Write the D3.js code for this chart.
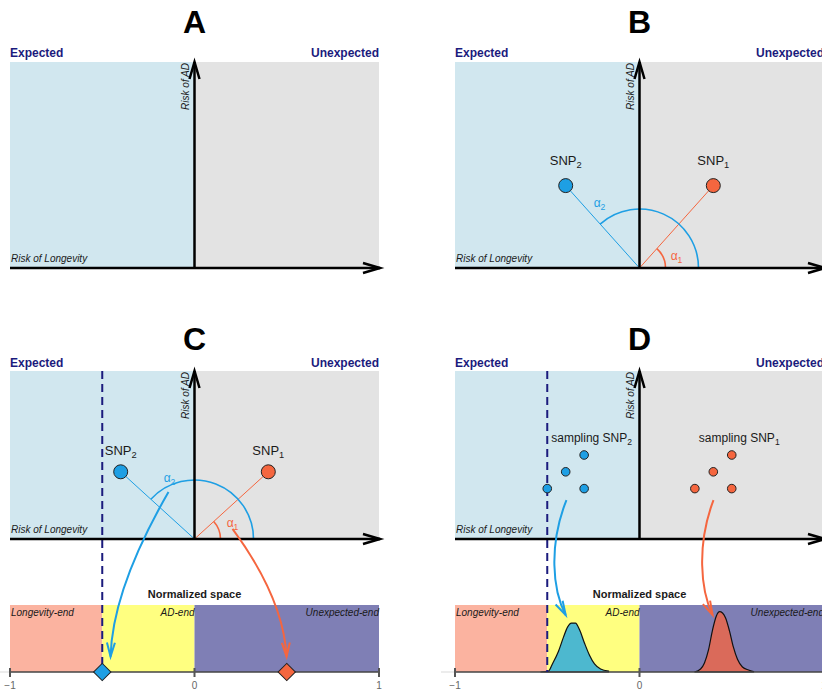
<!DOCTYPE html>
<html><head><meta charset="utf-8">
<script src="https://cdn.jsdelivr.net/npm/d3@7"></script>
<style>
  body { margin: 0; background: #fff; }
  svg { display: block; font-family: "Liberation Sans", Arial, Helvetica, sans-serif; }
</style>
</head><body>
<svg id="fig" width="822" height="691"></svg>
<script>
// ---- content ----------------------------------------------------------
const panelLetters = ["A", "B", "C", "D"];
const regionLabels = ["Expected", "Unexpected"];
const axisTitles   = ["Risk of Longevity", "Risk of AD"];
const bandNames    = ["Longevity-end", "AD-end", "Unexpected-end"];
const bandEdges    = [-1, -0.5, 0, 1];
const normTicks    = [-1, 0, 1];
const cutoff       = -0.5;

// SNP effects: (risk of longevity, risk of AD)
const snpIds  = ["1", "2"];
const snpLong = [0.4, -0.4];
const snpAD   = [0.4, 0.4];
// projection of each SNP onto the normalized space
const snpNorm = [0.5, -0.5];

// sampled effects (panel D)
const samp1Long = [0.5, 0.4, 0.3, 0.5];
const samp1AD   = [0.5, 0.4, 0.3, 0.3];
const samp2Long = [-0.3, -0.4, -0.5, -0.3];
const samp2AD   = [0.5, 0.4, 0.3, 0.3];

// densities of the sampled projections in normalized space
const dens2X = [-0.537, -0.493, -0.472, -0.439, -0.412, -0.390, -0.369, -0.347, -0.325, -0.298, -0.271, -0.244, -0.211, -0.168];
const dens2Y = [0, 0.15, 1.2, 3.1, 5.2, 6.7, 7.3, 7.3, 6.3, 4.3, 2.5, 1.2, 0.45, 0.15];
const dens1X = [0.298, 0.331, 0.352, 0.374, 0.396, 0.417, 0.434, 0.450, 0.466, 0.488, 0.509, 0.531, 0.558, 0.591, 0.618];
const dens1Y = [0, 0.45, 1.35, 3.3, 6.3, 8.4, 9.0, 8.8, 8.1, 6.1, 3.7, 1.9, 0.75, 0.3, 0.07];

// curved mapping arrows: [start, control(s)..., end] in (longevity, AD) units
const arrowC2 = [[-0.141, 0.28], [-0.445, -0.30], [-0.455, -0.70]];
const arrowC1 = [[0.206, 0.06], [0.482, -0.351], [0.499, -0.70]];
const arrowD2 = [[-0.396, 0.232], [-0.493, -0.036], [-0.472, -0.304], [-0.40, -0.452]];
const arrowD1 = [[0.401, 0.232], [0.309, -0.036], [0.331, -0.304], [0.396, -0.452]];

// ---- style ------------------------------------------------------------
const C = {
  expected: "#d1e7ef", unexpected: "#e3e3e3", navy: "#1b1b7d",
  blue: "#1e9fe4", orange: "#f5663f",
  pink: "#fbb3a0", yellow: "#ffff80", purple: "#7f7fb5",
  densBlue: "#4db8cf", densOrange: "#da6a5a", ink: "#1a1a1a"
};
const bandFills = [C.pink, C.yellow, C.purple];

const panels = [
  { key: "A", x0: 10,  top: 62,  axisY: 268, titleY: 33,  labelY: 57 },
  { key: "B", x0: 455, top: 62,  axisY: 268, titleY: 33,  labelY: 57,
    snp: true, snpLabelDy: -21, alpha2: [-40, -61], alpha1: [37, -8] },
  { key: "C", x0: 10,  top: 371, axisY: 539, titleY: 350, labelY: 367,
    snp: true, snpLabelDy: -17, alpha2: [-25, -57], alpha1: [38, -12],
    band: true, bandTop: 605, bandBottom: 672, arrows: [arrowC2, arrowC1], diamonds: true },
  { key: "D", x0: 455, top: 371, axisY: 539, titleY: 350, labelY: 367,
    samples: true, band: true, bandTop: 605, bandBottom: 672, arrows: [arrowD2, arrowD1], dens: true }
];
const W = 369;

const svg = d3.select("#fig");

function chevron(g, tip, dir, len, half, color, width) {
  // open arrowhead pointing along dir (unit vector)
  const [dx, dy] = dir, nx = -dy, ny = dx;
  const bx = tip[0] - dx * len, by = tip[1] - dy * len;
  g.append("path")
    .attr("d", `M${bx + nx * half},${by + ny * half}L${tip[0]},${tip[1]}L${bx - nx * half},${by - ny * half}`)
    .attr("fill", "none").attr("stroke", color).attr("stroke-width", width)
    .attr("stroke-linejoin", "miter").attr("stroke-linecap", "butt");
}

function subText(g, x, y, base, sub, size, color, anchor, style) {
  const t = g.append("text").attr("x", x).attr("y", y)
    .attr("font-size", size).attr("fill", color).attr("text-anchor", anchor || "middle");
  if (style) t.attr("font-style", style);
  t.append("tspan").text(base);
  t.append("tspan").attr("dy", size * 0.28).attr("font-size", size * 0.72).text(sub);
  return t;
}

panels.forEach((p, pi) => {
  const g = svg.append("g");
  const x = d3.scaleLinear([-1, 1], [p.x0, p.x0 + W]);
  const y = d3.scaleLinear([0, 1], [p.axisY, p.top]);
  const ox = x(0), oy = y(0);

  // panel letter
  g.append("text").attr("x", ox).attr("y", p.titleY).attr("text-anchor", "middle")
    .attr("font-size", 32).attr("font-weight", "bold").attr("fill", "#000").text(panelLetters[pi]);

  // quadrant backgrounds
  g.append("rect").attr("x", x(-1)).attr("y", p.top).attr("width", x(0) - x(-1)).attr("height", oy - p.top).attr("fill", C.expected);
  g.append("rect").attr("x", x(0)).attr("y", p.top).attr("width", x(1) - x(0)).attr("height", oy - p.top).attr("fill", C.unexpected);

  g.append("text").attr("x", x(-1)).attr("y", p.labelY).attr("font-size", 12).attr("font-weight", "bold")
    .attr("fill", C.navy).text(regionLabels[0]);
  g.append("text").attr("x", x(1)).attr("y", p.labelY).attr("font-size", 12).attr("font-weight", "bold")
    .attr("fill", C.navy).attr("text-anchor", "end").text(regionLabels[1]);

  // normalized space band
  if (p.band) {
    const bb = p.bandBottom, bt = p.bandTop;
    bandFills.forEach((f, i) => {
      g.append("rect").attr("x", x(bandEdges[i])).attr("y", bt)
        .attr("width", x(bandEdges[i + 1]) - x(bandEdges[i])).attr("height", bb - bt).attr("fill", f);
    });
    g.append("text").attr("x", ox).attr("y", bt - 7).attr("text-anchor", "middle")
      .attr("font-size", 11).attr("font-weight", "bold").attr("fill", C.ink).text("Normalized space");
    g.append("text").attr("x", x(-1) + 1).attr("y", bt + 11).attr("font-size", 10).attr("font-style", "italic")
      .attr("fill", C.ink).text(bandNames[0]);
    g.append("text").attr("x", x(0)).attr("y", bt + 11).attr("font-size", 10).attr("font-style", "italic")
      .attr("fill", C.ink).attr("text-anchor", "end").text(bandNames[1]);
    g.append("text").attr("x", x(1)).attr("y", bt + 11).attr("font-size", 10).attr("font-style", "italic")
      .attr("fill", C.ink).attr("text-anchor", "end").text(bandNames[2]);

    if (p.dens) {
      const dy = d3.scaleLinear([0, 10], [bb, bt]);
      const area = d3.area().x(d => x(d[0])).y0(bb).y1(d => dy(d[1])).curve(d3.curveMonotoneX);
      g.append("path").datum(d3.zip(dens2X, dens2Y)).attr("d", area)
        .attr("fill", C.densBlue).attr("stroke", "#111").attr("stroke-width", 1.2);
      g.append("path").datum(d3.zip(dens1X, dens1Y)).attr("d", area)
        .attr("fill", C.densOrange).attr("stroke", "#111").attr("stroke-width", 1.2);
    }

    // normalized axis
    g.append("line").attr("x1", x(-1) - 14).attr("x2", x(-1)).attr("y1", bb).attr("y2", bb)
      .attr("stroke", "#e6e6e6").attr("stroke-width", 1.5);
    g.append("line").attr("x1", x(-1)).attr("x2", x(1)).attr("y1", bb).attr("y2", bb)
      .attr("stroke", "#444").attr("stroke-opacity", 0.75).attr("stroke-width", 2);
    normTicks.forEach(t => {
      g.append("line").attr("x1", x(t)).attr("x2", x(t)).attr("y1", bb - 4).attr("y2", bb + 5)
        .attr("stroke", "#555").attr("stroke-width", 2);
      g.append("text").attr("x", x(t)).attr("y", bb + 17).attr("text-anchor", "middle")
        .attr("font-size", 10).attr("fill", "#666").text(d3.format("d")(t));
    });
  }

  // cut-off separating longevity-end from AD-end
  if (p.band) {
    g.append("line").attr("x1", x(cutoff)).attr("x2", x(cutoff)).attr("y1", p.top).attr("y2", p.bandBottom)
      .attr("stroke", C.navy).attr("stroke-width", 2).attr("stroke-dasharray", "8,5");
  }

  // SNP vectors and angles
  if (p.snp) {
    const pts = snpIds.map((id, i) => ({ id, px: x(snpLong[i]), py: y(snpAD[i]), color: i === 0 ? C.orange : C.blue }));
    const arcR = [26, 59];
    pts.forEach((s, i) => {
      g.append("line").attr("x1", ox).attr("y1", oy).attr("x2", s.px).attr("y2", s.py)
        .attr("stroke", s.color).attr("stroke-width", 1);
      const th = Math.atan2(oy - s.py, s.px - ox);
      const r = arcR[i];
      g.append("path")
        .attr("d", `M${ox + r},${oy}A${r},${r} 0 ${th > Math.PI ? 1 : 0} 0 ${ox + r * Math.cos(th)},${oy - r * Math.sin(th)}`)
        .attr("fill", "none").attr("stroke", s.color).attr("stroke-width", 1.6);
    });
    subText(g, ox + p.alpha1[0], oy + p.alpha1[1], "α", "1", 12, C.orange);
    subText(g, ox + p.alpha2[0], oy + p.alpha2[1], "α", "2", 12, C.blue);
    pts.forEach(s => {
      g.append("circle").attr("cx", s.px).attr("cy", s.py).attr("r", 7)
        .attr("fill", s.color).attr("stroke", "#222").attr("stroke-width", 1);
      subText(g, s.px, s.py + p.snpLabelDy, "SNP", s.id, 13, C.ink);
    });
  }

  // sampled SNP effects
  if (p.samples) {
    const sets = [
      { id: "1", xs: samp1Long, ys: samp1AD, color: C.orange },
      { id: "2", xs: samp2Long, ys: samp2AD, color: C.blue }
    ];
    sets.forEach(s => {
      subText(g, x(d3.min(s.xs)) + 4, y(d3.max(s.ys)) - 13, "sampling SNP", s.id, 12, C.ink, "start");
      s.xs.forEach((v, i) => {
        g.append("circle").attr("cx", x(v)).attr("cy", y(s.ys[i])).attr("r", 4.3)
          .attr("fill", s.color).attr("stroke", "#222").attr("stroke-width", 1);
      });
    });
  }

  // axes
  const axW = 2.5;
  g.append("line").attr("x1", x(-1)).attr("x2", x(1) + 1).attr("y1", oy).attr("y2", oy)
    .attr("stroke", "#000").attr("stroke-width", axW);
  chevron(g, [x(1) + 1, oy], [1, 0], 17, 5, "#000", axW);
  g.append("line").attr("x1", ox).attr("x2", ox).attr("y1", oy).attr("y2", p.top)
    .attr("stroke", "#000").attr("stroke-width", axW);
  chevron(g, [ox, p.top], [0, -1], 17, 5, "#000", axW);

  g.append("text").attr("x", x(-1) + 1).attr("y", oy - 6).attr("font-size", 10).attr("font-style", "italic")
    .attr("fill", C.ink).text(axisTitles[0]);
  g.append("text").attr("transform", `translate(${ox - 6},${p.top + 1}) rotate(-90)`)
    .attr("text-anchor", "end").attr("font-size", 10).attr("font-style", "italic")
    .attr("fill", C.ink).text(axisTitles[1]);

  // mapping arrows into normalized space
  if (p.arrows) {
    const cols = [C.blue, C.orange];
    p.arrows.forEach((a, i) => {
      const q = a.map(d => [x(d[0]), y(d[1])]);
      const path = d3.path();
      path.moveTo(q[0][0], q[0][1]);
      if (q.length === 3) path.quadraticCurveTo(q[1][0], q[1][1], q[2][0], q[2][1]);
      else path.bezierCurveTo(q[1][0], q[1][1], q[2][0], q[2][1], q[3][0], q[3][1]);
      g.append("path").attr("d", path.toString()).attr("fill", "none")
        .attr("stroke", cols[i]).attr("stroke-width", 2);
      const end = q[q.length - 1], prev = q[q.length - 2];
      const len = Math.hypot(end[0] - prev[0], end[1] - prev[1]);
      chevron(g, end, [(end[0] - prev[0]) / len, (end[1] - prev[1]) / len], 14, 4, cols[i], 2);
    });
  }

  // projected SNP positions
  if (p.diamonds) {
    const sym = d3.symbol(d3.symbolSquare, 150);
    snpNorm.forEach((v, i) => {
      g.append("path").attr("d", sym())
        .attr("transform", `translate(${x(v)},${p.bandBottom}) rotate(45)`)
        .attr("fill", i === 0 ? C.orange : C.blue).attr("stroke", "#222").attr("stroke-width", 1);
    });
  }
});
</script>
</body></html>
